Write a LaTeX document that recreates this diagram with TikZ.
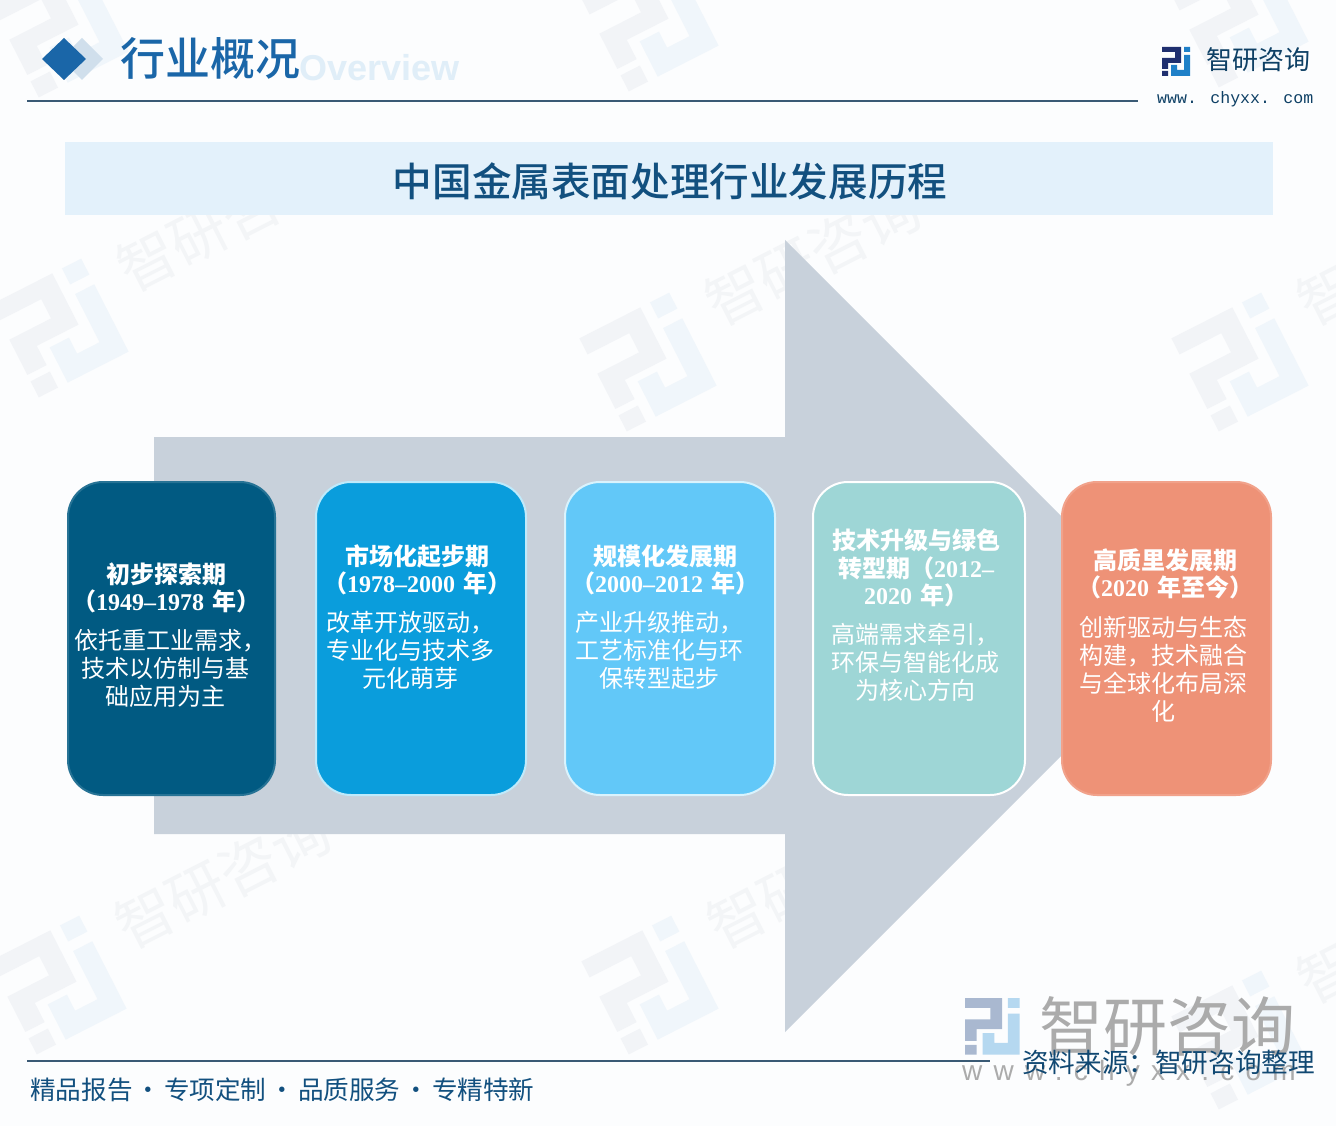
\documentclass[tikz,border=0pt]{standalone}
\usepackage{fontspec}
\setmainfont{Noto Sans CJK SC}
\newfontfamily\medcjk{Noto Sans CJK SC Medium}
\newfontfamily\serlat{Liberation Serif}
\newfontfamily\monolat{Liberation Mono}
\newfontfamily\sanslat{Liberation Sans}
\definecolor{bgc}{HTML}{FCFDFE}
\definecolor{navy}{HTML}{1A66A8}
\definecolor{navyl}{HTML}{D0DFEC}
\definecolor{rulec}{HTML}{3A5A75}
\definecolor{band}{HTML}{E3F1FB}
\definecolor{titlec}{HTML}{12507F}
\definecolor{arrowc}{HTML}{C8D1DB}
\definecolor{cardA}{HTML}{015A82}
\definecolor{cardB}{HTML}{0A9DDC}
\definecolor{cardC}{HTML}{62C8F8}
\definecolor{cardD}{HTML}{9ED6D6}
\definecolor{cardE}{HTML}{EE9277}
\definecolor{wmA}{HTML}{F2F4F7}
\definecolor{wmB}{HTML}{F0F6FB}
\definecolor{wmT}{HTML}{F3F5F7}
\definecolor{overc}{HTML}{E0EEF8}
\definecolor{logoD}{HTML}{1F2F6F}
\definecolor{logoB}{HTML}{1F80C8}
\definecolor{biglogoD}{HTML}{A9B8D0}
\definecolor{biglogoB}{HTML}{B5D8F0}
\definecolor{biggray}{HTML}{ABABAB}
\newcommand{\yrs}[1]{{\serlat\bfseries #1}}
\newcommand{\brandlogo}[2]{%
  \fill[#1] (0,0) rectangle (19,5) (13,0) rectangle (19,16) (0,11) rectangle (19,16)
            (0,11) rectangle (6,22) (0,24) rectangle (6,29);
  \fill[#2] (22,0) rectangle (28,5) (22,8) rectangle (28,29) (9,23) rectangle (28,29)
            (9,18) rectangle (15,23);
}
\newcommand{\wmtile}[3]{%
  \begin{scope}[shift={(#1,#2)},rotate=27]
    \begin{scope}[scale=3.6,shift={(-14,-14.5)}]\brandlogo{wmA}{wmB}\end{scope}
    \node[wmtext] (#3) at (195,-20) {智研咨询};
  \end{scope}
}
\tikzset{
  x=1pt,y=-1pt,
  wmtext/.style={text=wmT,font=\fontsize{58}{58}\selectfont,inner sep=0pt,anchor=center,transform shape},
  card/.style={rounded corners=35pt,minimum height=313pt,anchor=north west,inner sep=0pt,line width=2pt},
  head/.style={text=white,font=\fontsize{24}{27.5}\selectfont\bfseries,align=center,inner sep=0pt,anchor=center},
  body/.style={text=white,font=\fontsize{24}{28}\selectfont,align=center,inner sep=0pt,anchor=center},
  plain/.style={inner sep=0pt,anchor=center},
}
\begin{document}
\begin{tikzpicture}
\useasboundingbox (0,0) rectangle (1336,1126);
\fill[bgc] (0,0) rectangle (1336,1126);
% watermarks
\wmtile{60}{28}{wa}\wmtile{650}{22}{wb}\wmtile{1240}{18}{wc}
\wmtile{60}{328}{wd}\wmtile{648}{362}{we}\wmtile{1240}{362}{wf}
\wmtile{58}{985}{wg}\wmtile{650}{985}{wh}\wmtile{1240}{1040}{wi}
% header
\fill[navyl] (82,38) -- (103,59) -- (82,80) -- (61,59) -- cycle;
\fill[navy] (64,38) -- (86,59) -- (64,80) -- (42,59) -- cycle;
\node[plain,anchor=west,text=overc,font=\fontsize{36}{36}\selectfont\sanslat\bfseries] (over) at (299,68) {Overview};
\node[plain,anchor=west,text=navy,font=\fontsize{45}{45}\selectfont\medcjk] (maintitle) at (120,58) {行业概况};
\draw[rulec,line width=2pt] (27,101) -- (1138,101);
\begin{scope}[shift={(1162,47)}]\brandlogo{logoD}{logoB}\end{scope}
\node[plain,anchor=west,text=titlec!80!black,font=\fontsize{26}{26}\selectfont] (brand) at (1206,60) {智研咨询};
\node[plain,anchor=west,text=titlec!80!black,font=\fontsize{16.6}{17}\selectfont\monolat] (url) at (1157,99) {www. chyxx. com};
% banner
\fill[band] (65,142) rectangle (1273,215);
\node[plain,text=titlec,font=\fontsize{39.6}{40}\selectfont\medcjk] (bannertext) at (670,181) {中国金属表面处理行业发展历程};
% big arrow
\fill[arrowc] (154,437) -- (785,437) -- (785,240) -- (1181,636) -- (785,1032) -- (785,834) -- (154,834) -- cycle;
% cards
\node[card,fill=cardA,draw=cardA!85!white,minimum width=207pt] (c1) at (67,481) {};
\node[card,fill=cardB,draw=cyan!25!white,minimum width=210pt] (c2) at (315,481) {};
\node[card,fill=cardC,draw=cyan!15!white,minimum width=210pt] (c3) at (564,481) {};
\node[card,fill=cardD,draw=white,minimum width=212pt] (c4) at (812,481) {};
\node[card,fill=cardE,draw=cardE!85!white,minimum width=209pt] (c5) at (1061,481) {};
% card 1
\node[head] (h1) at (166,588) {初步探索期\\（\yrs{1949–1978}\hspace{8pt}年）};
\node[body] (b1) at (165,668) {\hspace*{10pt}依托重工业需求，\\技术以仿制与基\\础应用为主};
% card 2
\node[head] (h2) at (417,570) {市场化起步期\\（\yrs{1978–2000}\hspace{8pt}年）};
\node[body] (b2) at (410,650) {改革开放驱动，\\专业化与技术多\\元化萌芽};
% card 3
\node[head] (h3) at (665,570) {规模化发展期\\（\yrs{2000–2012}\hspace{8pt}年）};
\node[body] (b3) at (659,650) {产业升级推动，\\工艺标准化与环\\保转型起步};
% card 4
\node[head] (h4) at (916,568) {技术升级与绿色\\转型期（\yrs{2012–}\\\yrs{2020}\hspace{8pt}年）};
\node[body] (b4) at (915,662) {高端需求牵引，\\环保与智能化成\\为核心方向};
% card 5
\node[head] (h5) at (1165,574) {高质里发展期\\（\yrs{2020}\hspace{8pt}年至今）};
\node[body] (b5) at (1163,669) {创新驱动与生态\\构建，技术融合\\与全球化布局深\\化};
% footer
\begin{scope}[shift={(965,998)},scale=1.95]\brandlogo{biglogoD}{biglogoB}\end{scope}
\node[plain,anchor=west,text=biggray,font=\fontsize{64}{64}\selectfont] (bigbrand) at (1039,1026) {智研咨询};
\node[plain,anchor=west,text=biggray,font=\fontsize{28}{28}\selectfont\sanslat\addfontfeature{LetterSpace=40}] (bigurl) at (962,1073) {www.chyxx.com};
\draw[rulec,line width=1.5pt] (27,1061) -- (990,1061);
\node[plain,anchor=west,text=titlec!90!black,font=\fontsize{26.6}{27}\selectfont] (source) at (1022,1062) {资料来源：智研咨询整理};
\node[plain,anchor=west,text=titlec,font=\fontsize{25.6}{26}\selectfont] (slogan) at (30,1090) {精品报告\hspace{3pt}·\hspace{3pt}专项定制\hspace{3pt}·\hspace{3pt}品质服务\hspace{3pt}·\hspace{3pt}专精特新};
\end{tikzpicture}
\end{document}
